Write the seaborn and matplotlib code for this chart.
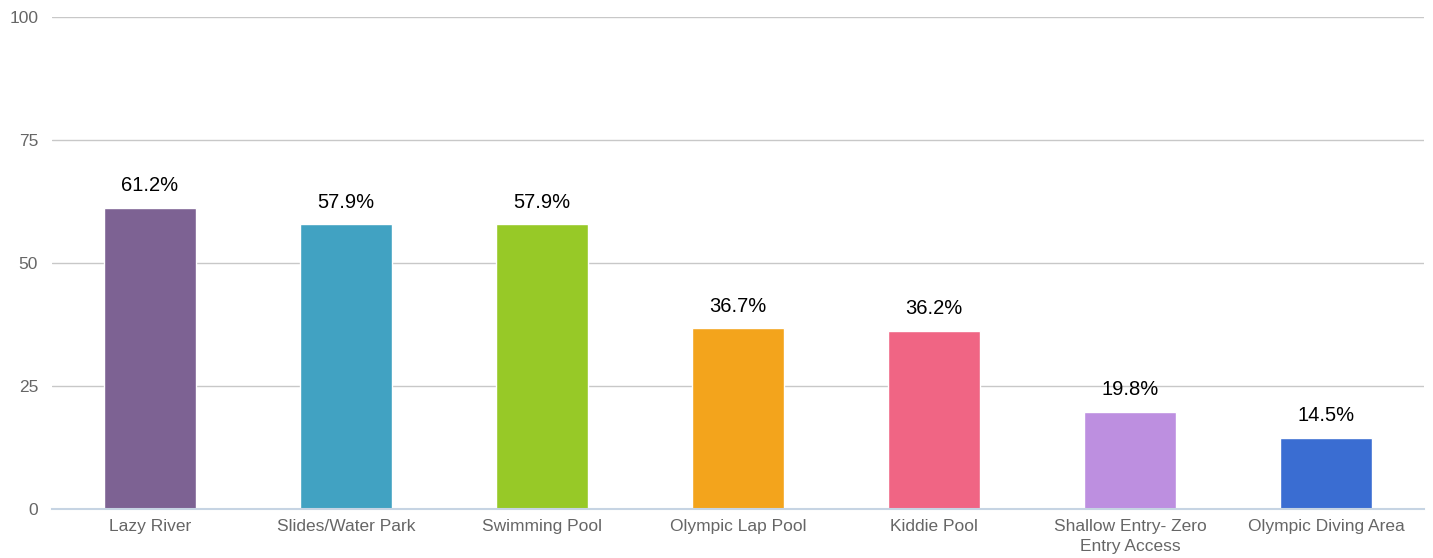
import pandas as pd
import numpy as np
import matplotlib.pyplot as plt
import seaborn as sns

# Chart data
categories = ['Lazy River', 'Slides/Water Park', 'Swimming Pool', 'Olympic Lap Pool',
              'Kiddie Pool', 'Shallow Entry- Zero\nEntry Access', 'Olympic Diving Area']
percents = [61.2, 57.9, 57.9, 36.7, 36.2, 19.8, 14.5]
colors = ['#7d6293', '#41a2c2', '#97c927', '#f3a41c', '#f06584', '#bd8fe0', '#3a6dd2']
y_ticks = [0, 25, 50, 75, 100]

sns.set_style('white')
plt.rcParams['font.family'] = ['Liberation Sans', 'DejaVu Sans']

df = pd.DataFrame({'category': categories, 'percent': percents})

fig = plt.figure(figsize=(14.33, 5.58), dpi=100)
ax = fig.add_axes([0.0363, 0.0878, 0.9574, 0.8817])

sns.barplot(data=df, x='category', y='percent', hue='category', palette=colors,
            legend=False, width=0.47, saturation=1, ax=ax, zorder=3)

# Value labels above bars
for i, v in enumerate(percents):
    ax.annotate(f'{v}%', (i, v), xytext=(0, 9), textcoords='offset points',
                ha='center', va='bottom', fontsize=14.5, color='black')

ax.set_ylim(0, 100)
ax.set_xlim(-0.5, len(categories) - 0.5)
ax.set_yticks(y_ticks)
ax.grid(axis='y', color='#c8c8c8', linewidth=1, zorder=0)
ax.set_xlabel('')
ax.set_ylabel('')

for s in ['left', 'right', 'top']:
    ax.spines[s].set_visible(False)
ax.spines['bottom'].set_color('#c6d4e3')
ax.spines['bottom'].set_linewidth(1.5)
ax.spines['bottom'].set_zorder(4)

ax.tick_params(axis='y', length=0, pad=10, labelsize=12.5, labelcolor='#666666')
ax.tick_params(axis='x', length=0, pad=7, labelsize=12.5, labelcolor='#666666')
for lbl in ax.get_xticklabels():
    lbl.set_linespacing(1.45)
ax.set_xticks(np.arange(-0.5, len(categories), 1.0), minor=True)
ax.tick_params(axis='x', which='minor', length=5, width=1.2, color='#c6d4e3')

fig.savefig('out.png', dpi=100)
